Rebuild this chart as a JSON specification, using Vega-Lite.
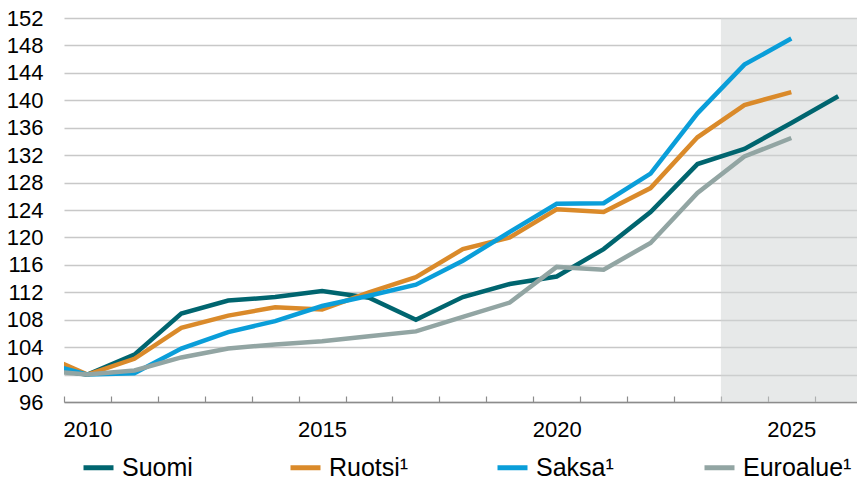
{
  "$schema": "https://vega.github.io/schema/vega-lite/v6.json",
  "autosize": {"type": "none"},
  "padding": {"left": 64, "top": 18, "right": 0, "bottom": 80},
  "width": 793,
  "height": 384,
  "background": "white",
  "config": {
    "view": {"stroke": null},
    "font": "Liberation Sans",
    "axis": {"labelFont": "Liberation Sans", "labelFontSize": 22, "labelColor": "#000000"},
    "legend": {"labelFont": "Liberation Sans", "labelFontSize": 25, "labelColor": "#000000", "labelLimit": 200}
  },
  "datasets": {
    "shade": [{"start": 2023.5, "end": 2026.4}],
    "series": [
      {"year": 2009, "series": "Suomi", "value": 101.0},
      {"year": 2010, "series": "Suomi", "value": 100.0},
      {"year": 2011, "series": "Suomi", "value": 102.9},
      {"year": 2012, "series": "Suomi", "value": 108.9},
      {"year": 2013, "series": "Suomi", "value": 110.8},
      {"year": 2014, "series": "Suomi", "value": 111.3},
      {"year": 2015, "series": "Suomi", "value": 112.2},
      {"year": 2016, "series": "Suomi", "value": 111.2},
      {"year": 2017, "series": "Suomi", "value": 108.0},
      {"year": 2018, "series": "Suomi", "value": 111.3},
      {"year": 2019, "series": "Suomi", "value": 113.2},
      {"year": 2020, "series": "Suomi", "value": 114.3},
      {"year": 2021, "series": "Suomi", "value": 118.3},
      {"year": 2022, "series": "Suomi", "value": 123.7},
      {"year": 2023, "series": "Suomi", "value": 130.7},
      {"year": 2024, "series": "Suomi", "value": 132.9},
      {"year": 2025, "series": "Suomi", "value": 136.7},
      {"year": 2026, "series": "Suomi", "value": 140.6},
      {"year": 2009, "series": "Ruotsi¹", "value": 103.0},
      {"year": 2010, "series": "Ruotsi¹", "value": 100.0},
      {"year": 2011, "series": "Ruotsi¹", "value": 102.3},
      {"year": 2012, "series": "Ruotsi¹", "value": 106.8},
      {"year": 2013, "series": "Ruotsi¹", "value": 108.6},
      {"year": 2014, "series": "Ruotsi¹", "value": 109.8},
      {"year": 2015, "series": "Ruotsi¹", "value": 109.5},
      {"year": 2016, "series": "Ruotsi¹", "value": 112.0},
      {"year": 2017, "series": "Ruotsi¹", "value": 114.2},
      {"year": 2018, "series": "Ruotsi¹", "value": 118.3},
      {"year": 2019, "series": "Ruotsi¹", "value": 120.0},
      {"year": 2020, "series": "Ruotsi¹", "value": 124.1},
      {"year": 2021, "series": "Ruotsi¹", "value": 123.7},
      {"year": 2022, "series": "Ruotsi¹", "value": 127.2},
      {"year": 2023, "series": "Ruotsi¹", "value": 134.6},
      {"year": 2024, "series": "Ruotsi¹", "value": 139.3},
      {"year": 2025, "series": "Ruotsi¹", "value": 141.2},
      {"year": 2009, "series": "Saksa¹", "value": 101.8},
      {"year": 2010, "series": "Saksa¹", "value": 100.0},
      {"year": 2011, "series": "Saksa¹", "value": 100.2},
      {"year": 2012, "series": "Saksa¹", "value": 103.8},
      {"year": 2013, "series": "Saksa¹", "value": 106.2},
      {"year": 2014, "series": "Saksa¹", "value": 107.8},
      {"year": 2015, "series": "Saksa¹", "value": 110.0},
      {"year": 2016, "series": "Saksa¹", "value": 111.5},
      {"year": 2017, "series": "Saksa¹", "value": 113.1},
      {"year": 2018, "series": "Saksa¹", "value": 116.6},
      {"year": 2019, "series": "Saksa¹", "value": 120.8},
      {"year": 2020, "series": "Saksa¹", "value": 124.9},
      {"year": 2021, "series": "Saksa¹", "value": 125.0},
      {"year": 2022, "series": "Saksa¹", "value": 129.3},
      {"year": 2023, "series": "Saksa¹", "value": 138.1},
      {"year": 2024, "series": "Saksa¹", "value": 145.2},
      {"year": 2025, "series": "Saksa¹", "value": 149.0},
      {"year": 2009, "series": "Euroalue¹", "value": 100.6},
      {"year": 2010, "series": "Euroalue¹", "value": 100.0},
      {"year": 2011, "series": "Euroalue¹", "value": 100.6},
      {"year": 2012, "series": "Euroalue¹", "value": 102.5},
      {"year": 2013, "series": "Euroalue¹", "value": 103.8},
      {"year": 2014, "series": "Euroalue¹", "value": 104.4},
      {"year": 2015, "series": "Euroalue¹", "value": 104.85},
      {"year": 2016, "series": "Euroalue¹", "value": 105.6},
      {"year": 2017, "series": "Euroalue¹", "value": 106.3},
      {"year": 2018, "series": "Euroalue¹", "value": 108.4},
      {"year": 2019, "series": "Euroalue¹", "value": 110.5},
      {"year": 2020, "series": "Euroalue¹", "value": 115.7},
      {"year": 2021, "series": "Euroalue¹", "value": 115.3},
      {"year": 2022, "series": "Euroalue¹", "value": 119.2},
      {"year": 2023, "series": "Euroalue¹", "value": 126.5},
      {"year": 2024, "series": "Euroalue¹", "value": 131.8},
      {"year": 2025, "series": "Euroalue¹", "value": 134.5}
    ]
  },
  "resolve": {"axis": {"x": "independent"}},
  "layer": [
    {
      "data": {"name": "shade"},
      "mark": {"type": "rect", "fill": "#cfd3d3", "opacity": 0.5},
      "encoding": {
        "x": {
          "field": "start", "type": "quantitative",
          "scale": {"domain": [2009.5, 2026.4], "nice": false, "zero": false},
          "axis": {
            "orient": "bottom",
            "values": [2009.5, 2010.5, 2011.5, 2012.5, 2013.5, 2014.5, 2015.5, 2016.5, 2017.5, 2018.5, 2019.5, 2020.5, 2021.5, 2022.5, 2023.5, 2024.5, 2025.5],
            "labels": false, "title": null, "grid": false,
            "domain": true, "domainColor": "#8c8c8c", "domainWidth": 1.5,
            "ticks": true, "tickColor": "#8c8c8c", "tickWidth": 1.2, "tickSize": -6
          }
        },
        "x2": {"field": "end"}
      }
    },
    {
      "data": {"name": "series"},
      "mark": {"type": "line", "strokeWidth": 4.5, "clip": true, "strokeCap": "butt", "strokeJoin": "miter"},
      "encoding": {
        "x": {
          "field": "year", "type": "quantitative",
          "axis": {
            "orient": "bottom",
            "values": [2010, 2015, 2020, 2025], "format": "d",
            "title": null, "grid": false, "domain": false, "ticks": false,
            "labelPadding": 17, "labelFlush": false
          }
        },
        "y": {
          "field": "value", "type": "quantitative",
          "scale": {"domain": [96, 152], "nice": false, "zero": false},
          "axis": {
            "values": [96, 100, 104, 108, 112, 116, 120, 124, 128, 132, 136, 140, 144, 148, 152],
            "title": null, "domain": false, "ticks": false, "labelPadding": 21,
            "grid": true, "gridColor": "#c8c8c8", "gridWidth": 1.5
          }
        },
        "color": {
          "field": "series", "type": "nominal",
          "scale": {
            "domain": ["Suomi", "Ruotsi¹", "Saksa¹", "Euroalue¹"],
            "range": ["#00656f", "#da8a2a", "#0a9ed9", "#92a5a3"]
          },
          "legend": {
            "title": null, "orient": "none", "legendX": 17, "legendY": 432,
            "direction": "horizontal", "columns": 4, "gridAlign": "all",
            "columnPadding": 49, "symbolType": "stroke", "symbolSize": 900,
            "symbolStrokeWidth": 5, "labelOffset": 6
          }
        }
      }
    }
  ]
}
